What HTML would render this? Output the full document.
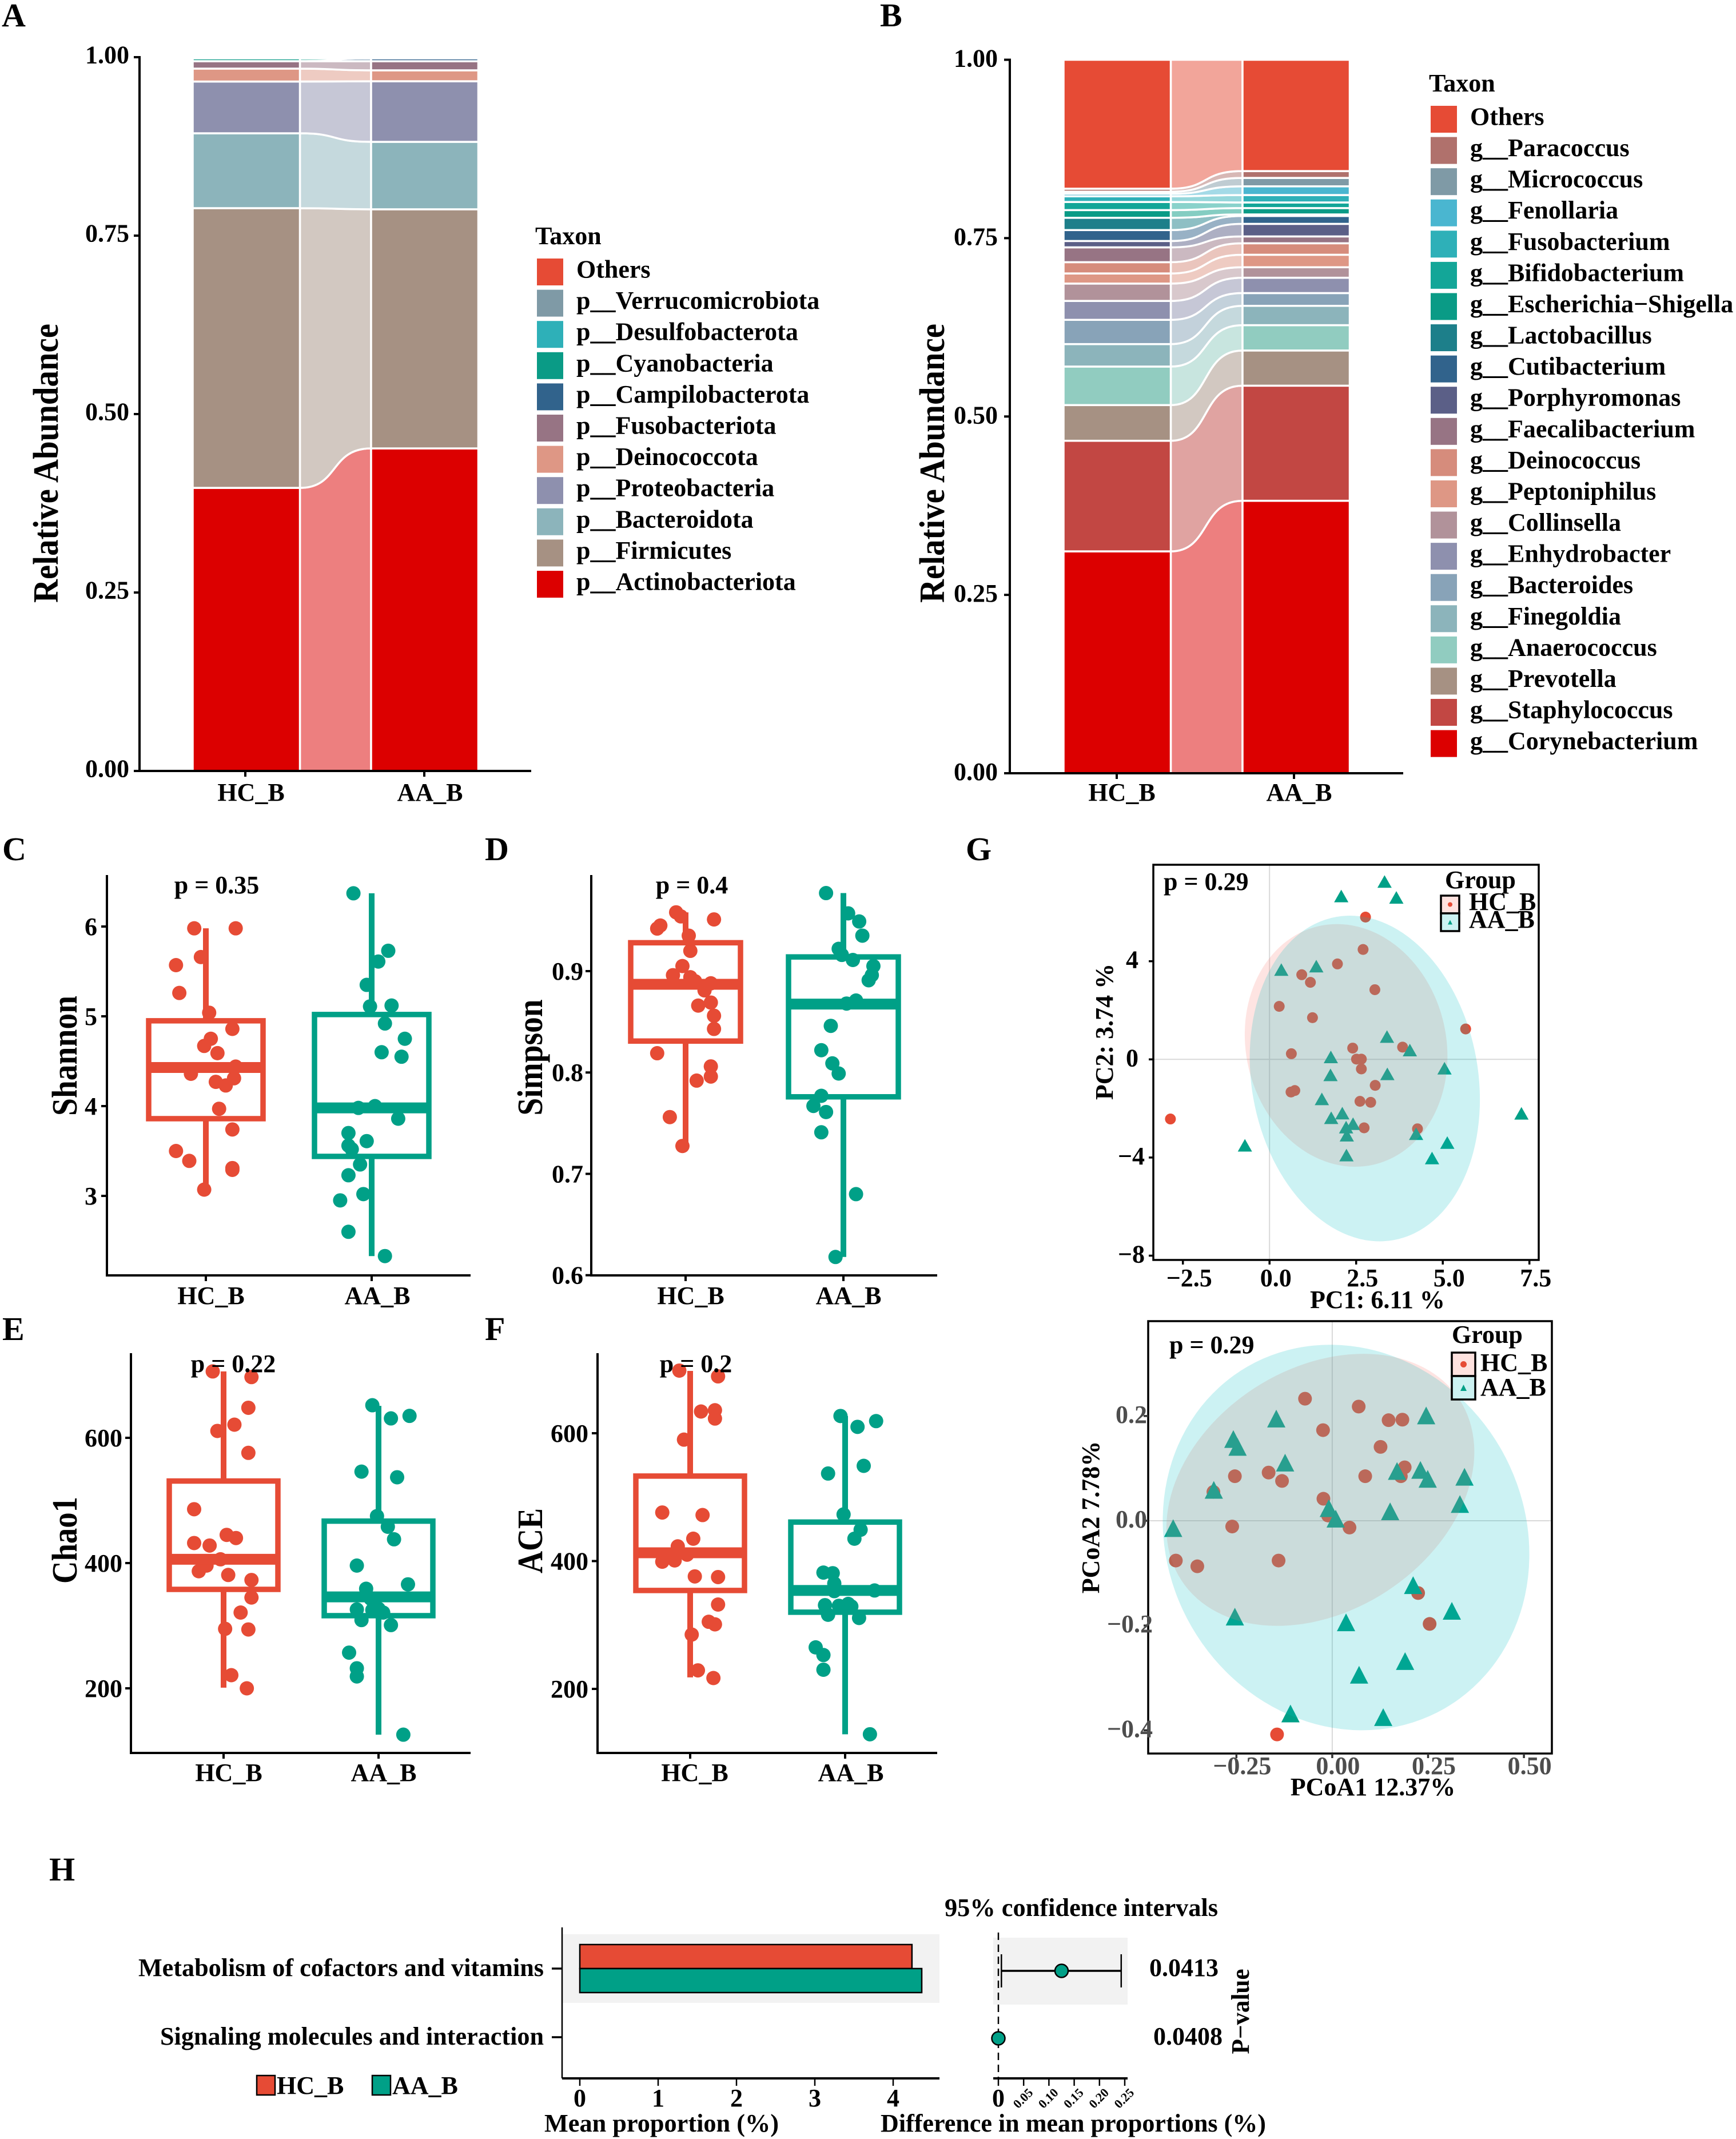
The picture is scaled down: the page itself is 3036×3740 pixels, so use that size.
<!DOCTYPE html>
<html lang="en">
<head>
<meta charset="utf-8">
<title>Microbiome composition and diversity figure</title>
<style>
html,body{margin:0;padding:0;background:#fff;}
svg{display:block;}
text{font-family:"Liberation Serif",serif;font-weight:bold;font-size:44px;fill:#000;}
.letter{font-size:58px;}
.ytitle{font-size:62px;}
</style>
</head>
<body>
<svg id="figure" xmlns="http://www.w3.org/2000/svg" width="3036" height="3740" viewBox="0 0 3036 3740">
<rect x="0" y="0" width="3036" height="3740" fill="#fff"/>

<text class="letter" x="3" y="46">A</text>
<text class="letter" x="1539" y="46">B</text>
<text class="letter" x="4" y="1504">C</text>
<text class="letter" x="848" y="1504">D</text>
<text class="letter" x="4" y="2343">E</text>
<text class="letter" x="848" y="2343">F</text>
<text class="letter" x="1689" y="1504">G</text>
<text class="letter" x="86" y="3288">H</text>

<g id="panelA"></g>
<g id="panelB"></g>
<g id="panelC"></g>
<g id="panelD"></g>
<g id="panelE"></g>
<g id="panelF"></g>
<g id="panelG1"></g>
<g id="panelG2"></g>
<g id="panelH"></g>

<!-- alluvial titles -->
<text class="ytitle" text-anchor="middle" textLength="488" lengthAdjust="spacingAndGlyphs" transform="translate(101 810) rotate(-90)">Relative Abundance</text>
<text x="439" y="1400" text-anchor="middle">HC_B</text>
<text x="752" y="1400" text-anchor="middle">AA_B</text>
<text x="936" y="427">Taxon</text>
<text class="ytitle" text-anchor="middle" textLength="488" lengthAdjust="spacingAndGlyphs" transform="translate(1651 810) rotate(-90)">Relative Abundance</text>
<text x="1962" y="1400" text-anchor="middle">HC_B</text>
<text x="2272" y="1400" text-anchor="middle">AA_B</text>
<text x="2499" y="160">Taxon</text>

<!-- boxplot titles -->
<text class="ytitle" text-anchor="middle" textLength="210" lengthAdjust="spacingAndGlyphs" transform="translate(134 1846) rotate(-90)">Shannon</text>
<text x="379" y="1562" text-anchor="middle">p = 0.35</text>
<text x="369" y="2280" text-anchor="middle">HC_B</text>
<text x="660" y="2280" text-anchor="middle">AA_B</text>
<text class="ytitle" text-anchor="middle" textLength="203" lengthAdjust="spacingAndGlyphs" transform="translate(948 1849) rotate(-90)">Simpson</text>
<text x="1210" y="1562" text-anchor="middle">p = 0.4</text>
<text x="1208" y="2280" text-anchor="middle">HC_B</text>
<text x="1484" y="2280" text-anchor="middle">AA_B</text>
<text class="ytitle" text-anchor="middle" textLength="152" lengthAdjust="spacingAndGlyphs" transform="translate(134 2693) rotate(-90)">Chao1</text>
<text x="400" y="3114" text-anchor="middle">HC_B</text>
<text x="671" y="3114" text-anchor="middle">AA_B</text>
<text class="ytitle" text-anchor="middle" textLength="114" lengthAdjust="spacingAndGlyphs" transform="translate(948 2694) rotate(-90)">ACE</text>
<text x="1215" y="3114" text-anchor="middle">HC_B</text>
<text x="1488" y="3114" text-anchor="middle">AA_B</text>

<!-- ordination titles -->
<text x="2409" y="2287" text-anchor="middle">PC1: 6.11 %</text>
<text text-anchor="middle" transform="translate(1946 1804) rotate(-90)">PC2: 3.74 %</text>
<text x="2401" y="3139" text-anchor="middle">PCoA1 12.37%</text>
<text text-anchor="middle" transform="translate(1922 2653) rotate(-90)">PCoA2 7.78%</text>

<!-- STAMP titles -->
<text x="1891" y="3350" text-anchor="middle" textLength="478" lengthAdjust="spacingAndGlyphs">95% confidence intervals</text>
<text x="1157" y="3727" text-anchor="middle" textLength="410" lengthAdjust="spacingAndGlyphs">Mean proportion (%)</text>
<text x="1877" y="3727" text-anchor="middle" textLength="674" lengthAdjust="spacingAndGlyphs">Difference in mean proportions (%)</text>
<text text-anchor="middle" textLength="149" lengthAdjust="spacingAndGlyphs" transform="translate(2184 3517) rotate(-90)">P−value</text>

<script>
/* ---------- Panel A data ---------- */
const phylumNames = ['p__Actinobacteriota','p__Firmicutes','p__Bacteroidota','p__Proteobacteria','p__Deinococcota','p__Fusobacteriota','p__Campilobacterota','p__Cyanobacteria','p__Desulfobacterota','p__Verrucomicrobiota','Others'];
const phylumColors = ['#DC0000','#A69183','#8CB4BB','#8E90AE','#DE9785','#977484','#31638C','#0A9B86','#2EB0B8','#7F9AA6','#E64B35'];
const phylumHc = [.3966,.3919,.1049,.0725,.0181,.0104,.0001,.0039,.0006,.0005,.0005];
const phylumAa = [.4519,.335,.0945,.0849,.0153,.0128,.0040,.0002,.0004,.0005,.0005];
const stackTicks = ['0.00','0.25','0.50','0.75','1.00'];

/* ---------- Panel B data ---------- */
const genusNames = ['g__Corynebacterium','g__Staphylococcus','g__Prevotella','g__Anaerococcus','g__Finegoldia','g__Bacteroides','g__Enhydrobacter','g__Collinsella','g__Peptoniphilus','g__Deinococcus','g__Faecalibacterium','g__Porphyromonas','g__Cutibacterium','g__Lactobacillus','g__Escherichia−Shigella','g__Bifidobacterium','g__Fusobacterium','g__Fenollaria','g__Micrococcus','g__Paracoccus','Others'];
const genusColors = ['#DC0000','#C24743','#A69183','#91CCC0','#8CB4BB','#88A3B8','#8E90AE','#B1929A','#DE9785','#D68C7C','#977484','#5B5F87','#31638C','#1D7F8A','#0A9B86','#13A698','#2EB0B8','#4AB6D0','#7F9AA6','#B0716C','#E64B35'];
const genusHc = [.311,.155,.050,.054,.0315,.034,.0265,.0243,.0142,.0158,.0208,.0089,.0153,.0172,.0108,.0114,.0079,.0036,.0029,.0042,.1807];
const genusAa = [.3819,.1613,.0493,.0355,.0271,.0179,.0215,.0147,.0175,.0161,.0096,.0176,.0111,.0021,.0089,.0079,.0104,.0122,.0118,.0096,.156];

/* ---------- Panel C: Shannon ---------- */
const shannonTicks = ['3','4','5','6'];
const shannonBoxHc = [3.07,3.86,4.43,4.95,5.98];
const shannonBoxAa = [2.33,3.44,3.98,5.02,6.37];
const shannonHcValues = [5.98,5.98,5.66,5.57,5.26,5.04,4.86,4.75,4.67,4.59,4.44,4.36,4.31,4.27,4.23,3.97,3.74,3.50,3.39,3.31,3.29,3.07];
const shannonHcJitter = [-.07,.18,-.03,-.18,-.16,.02,.16,.03,-.01,.07,.18,-.09,.17,.06,.12,.08,.16,-.18,-.10,.16,.16,-.01];
const shannonAaValues = [6.37,5.73,5.61,5.35,5.11,5.12,4.92,4.75,4.60,4.55,3.98,4.00,3.86,3.70,3.61,3.56,3.52,3.35,3.23,3.02,2.95,2.60,2.33];
const shannonAaJitter = [-.11,.10,.04,-.03,-.01,.12,.08,.20,.06,.18,-.08,.02,.16,-.14,-.03,-.14,-.12,-.07,-.14,-.05,-.19,-.14,.08];

/* ---------- Panel D: Simpson ---------- */
const simpsonTicks = ['0.6','0.7','0.8','0.9'];
const simpsonBoxHc = [.7275,.831,.887,.928,.958];
const simpsonBoxAa = [.618,.776,.8675,.914,.977];
const simpsonHcValues = [.958,.951,.954,.945,.942,.935,.920,.905,.896,.894,.890,.888,.881,.869,.866,.856,.843,.819,.806,.796,.792,.756,.7275];
const simpsonHcJitter = [-.06,.18,-.03,-.16,-.18,.02,.03,-.02,-.08,.03,.06,.16,.12,.16,.08,.18,.18,-.18,.16,.16,.07,-.10,-.02];
const simpsonAaValues = [.977,.957,.949,.935,.922,.916,.911,.905,.896,.891,.868,.871,.846,.822,.809,.799,.777,.767,.761,.741,.680,.618];
const simpsonAaJitter = [-.11,.03,.10,.12,-.03,-.01,.06,.19,.18,.16,.02,.08,-.08,-.14,-.07,-.03,-.14,-.19,-.11,-.14,.08,-.05];

/* ---------- Panel E: Chao1 ---------- */
const chaoTicks = ['200','400','600'];
const chaoBoxHc = [201,358,406,531,706];
const chaoBoxAa = [126,316,346,467,651];
const chaoHcValues = [706,697,648,621,611,576,486,445,440,432,428,406,396,387,381,373,345,321,295,294,221,200];
const chaoHcJitter = [-.07,.18,.16,.07,-.04,.16,-.19,.02,.08,-.19,-.09,-.02,-.11,-.16,.03,.18,.18,.11,.01,.16,.05,.15];
const chaoAaValues = [652,631,635,546,537,475,458,438,396,366,359,343,326,327,325,321,309,301,257,232,219,126];
const chaoAaJitter = [-.04,.08,.20,-.11,.12,-.01,.06,.10,-.14,.19,-.08,-.05,-.14,0,-.04,.03,-.11,.08,-.19,-.14,-.14,.16];

/* ---------- Panel F: ACE ---------- */
const aceTicks = ['200','400','600'];
const aceBoxHc = [218,354,413,533,697.5];
const aceBoxAa = [129,320,354,461,627];
const aceHcValues = [698,689,634,636,623,590,476,472,435,423,410,401,399,376,375,332,305,301,285,229,217];
const aceHcJitter = [-.07,.18,.07,.16,.16,-.04,-.18,.08,.02,-.08,-.02,-.10,-.18,.03,.18,.18,.12,.16,.01,.05,.15];
const aceAaValues = [627,619,610,549,537,473,449,435,382,381,365,353,354,331,333,330,329,316,311,265,253,230,129];
const aceAaJitter = [-.03,.20,.08,.12,-.11,-.01,.10,.06,-.14,-.08,-.07,-.07,.19,-.13,.02,-.04,.04,-.11,.09,-.19,-.14,-.14,.16];

/* ---------- Panel G: PCA ---------- */
const pcaXTicks = [-2.5,0,2.5,5,7.5];
const pcaXLabels = ['−2.5','0.0','2.5','5.0','7.5'];
const pcaYTicks = [-8,-4,0,4];
const pcaYLabels = ['−8','−4','0','4'];
const pcaHcX = [2.77,2.70,1.96,.93,1.18,3.04,.28,1.24,5.66,2.40,3.84,.63,2.51,2.65,2.65,3.05,.73,.62,2.61,2.92,2.73,4.27,-2.86];
const pcaHcY = [5.80,4.48,3.89,3.45,3.14,2.84,2.16,1.70,1.24,.46,.50,.23,.01,.01,-.39,-1.06,-1.27,-1.33,-1.71,-1.75,-2.79,-2.83,-2.43];
const pcaAaX = [3.32,2.07,3.66,.34,1.35,3.39,4.05,1.77,5.05,1.76,3.40,1.51,1.78,2.10,2.41,2.21,2.23,4.23,5.13,4.69,2.22,7.27,-.71];
const pcaAaY = [7.25,6.66,6.60,3.66,3.80,.93,.38,.10,-.36,-.63,-.59,-1.61,-2.38,-2.19,-2.62,-2.76,-3.09,-3.03,-3.39,-4.02,-3.90,-2.20,-3.50];
const pcaEllipseCenterHc = [2.21,.57];
const pcaEllipseCenterAa = [2.75,-.78];

/* ---------- Panel G: PCoA ---------- */
const pcoaXTicks = [-.25,0,.25,.5];
const pcoaXLabels = ['−0.25','0.00','0.25','0.50'];
const pcoaYTicks = [-.4,-.2,0,.2];
const pcoaYLabels = ['−0.4','−0.2','0.0','0.2'];
const pcoaHcX = [-.071,.069,.147,.183,-.024,.126,.189,.179,.086,-.166,-.254,-.131,-.310,-.023,-.011,.045,-.261,-.408,-.352,-.140,.224,.254,-.144];
const pcoaHcY = [.233,.218,.192,.193,.173,.141,.102,.085,.085,.092,.085,.076,.055,.042,.010,-.013,-.011,-.076,-.087,-.076,-.138,-.197,-.408];
const pcoaAaX = [-.146,.245,-.258,-.247,-.123,.230,.169,.249,.345,-.309,.333,.151,-.009,.009,-.415,.211,.312,-.254,.036,.190,.070,-.109,.133];
const pcoaAaY = [.195,.201,.156,.141,.111,.097,.095,.080,.084,.059,.032,.018,.024,.004,-.014,-.123,-.172,-.183,-.194,-.268,-.294,-.368,-.375];
const pcoaEllipseCenterHc = [-.031,.059];
const pcoaEllipseCenterAa = [.036,-.032];

/* ---------- Panel H: STAMP ---------- */
const pathwayNames = ['Metabolism of cofactors and vitamins','Signaling molecules and interaction'];
const pathwayLabelLengths = [709,671];
const meanHc = [4.24,0.0];
const meanAa = [4.365,0.0];
const diffMean = [.125,0];
const diffLow = [.006,0];
const diffHigh = [.243,0];
const pValueLabels = ['0.0413','0.0408'];
const meanTicks = [0,1,2,3,4];
const diffTicks = [0,.05,.10,.15,.20,.25];
const diffTickLabels = ['0','0.05','0.10','0.15','0.20','0.25'];

/* ---------- Helpers ---------- */
const NS = 'http://www.w3.org/2000/svg';
const RED = '#E64B35';
const TEAL = '#00A087';
function mk(tag, attrs, parent) {
  const el = document.createElementNS(NS, tag);
  for (const k in attrs) el.setAttribute(k, attrs[k]);
  parent.appendChild(el);
  return el;
}
function linear(d0, d1, r0, r1) {
  return function (v) { return r0 + (v - d0) * (r1 - r0) / (d1 - d0); };
}
function addText(parent, name, str, x, y, anchor, fill) {
  const t = mk('text', {x: x, y: y, 'text-anchor': anchor || 'start'}, parent);
  
  
  if (fill) t.style.fill = fill;
  t.textContent = str;
  return t;
}
function addLine(parent, name, x1, y1, x2, y2, width, color) {
  const l = mk('line', {x1: x1, y1: y1, x2: x2, y2: y2, stroke: color || '#000', 'stroke-width': width}, parent);
  
  
  return l;
}
function drawLTicksAxis(g, y, labels, axisX, axisTop, axisBottom, axisRight, labelRight, labelDy) {
  addLine(g, 'y-axis-line', axisX, axisTop, axisX, axisBottom + 2, 4);
  addLine(g, 'x-axis-line', axisX - 2, axisBottom, axisRight, axisBottom, 4);
  labels.forEach(function (lab) {
    const py = y(Number(lab));
    addLine(g, 'y-tick', axisX - 10, py, axisX, py, 4);
    addText(g, 'y-tick-label', lab, labelRight, py + labelDy, 'end');
  });
}

/* ---------- Alluvial ---------- */
function drawAlluvial(g, hc, aa, colors, names, geo) {
  const y = linear(0, 1, geo.y0, geo.y1);
  const bandL = geo.hc[1];
  const bandR = geo.aa[0];
  const w = bandR - bandL;
  let cumH = 0;
  let cumA = 0;
  const rows = hc.map(function (v, i) {
    const row = {h0: cumH, a0: cumA};
    cumH += v;
    cumA += aa[i];
    row.h1 = cumH;
    row.a1 = cumA;
    return row;
  });
  rows.forEach(function (r, i) {
    const d = 'M' + bandL + ' ' + y(r.h1) +
      ' C' + (bandL + .55 * w) + ' ' + y(r.h1) + ' ' + (bandL + .42 * w) + ' ' + y(r.a1) + ' ' + bandR + ' ' + y(r.a1) +
      ' L' + bandR + ' ' + y(r.a0) +
      ' C' + (bandL + .42 * w) + ' ' + y(r.a0) + ' ' + (bandL + .55 * w) + ' ' + y(r.h0) + ' ' + bandL + ' ' + y(r.h0) + ' Z';
    const p = mk('path', {d: d, fill: colors[i], 'fill-opacity': .5, stroke: '#fff', 'stroke-width': 3.5}, g);
    
    
  });
  rows.forEach(function (r, i) {
    const a = mk('rect', {x: geo.hc[0], y: y(r.h1), width: geo.hc[1] - geo.hc[0], height: y(r.h0) - y(r.h1), fill: colors[i], stroke: '#fff', 'stroke-width': 3.5}, g);
    
    
    const b = mk('rect', {x: geo.aa[0], y: y(r.a1), width: geo.aa[1] - geo.aa[0], height: y(r.a0) - y(r.a1), fill: colors[i], stroke: '#fff', 'stroke-width': 3.5}, g);
    
    
  });
  drawLTicksAxis(g, y, stackTicks, geo.axisX, geo.y1 - 2, geo.y0, geo.axisRight, geo.labelRight, geo.labelDy);
  geo.ticksX.forEach(function (tx) {
    addLine(g, 'x-tick', tx, geo.y0, tx, geo.y0 + 10, 4);
  });
  const n = names.length;
  for (let i = 0; i < n; i++) {
    const idx = n - 1 - i;
    const sy = geo.legY + i * geo.legPitch;
    const sw = mk('rect', {x: geo.legX, y: sy, width: 46, height: 47, fill: colors[idx]}, g);
    
    
    addText(g, 'legend-label', names[idx], geo.legTextX, sy + 33.5);
  }
}
drawAlluvial(document.getElementById('panelA'), phylumHc, phylumAa, phylumColors, phylumNames, {
  y0: 1348, y1: 100, hc: [337, 524.5], aa: [649, 836.5], axisX: 244, axisRight: 929, labelRight: 226, labelDy: 10.5,
  ticksX: [429, 742], legX: 939, legY: 452, legPitch: 54.6, legTextX: 1008
});
drawAlluvial(document.getElementById('panelB'), genusHc, genusAa, genusColors, genusNames, {
  y0: 1352, y1: 104.5, hc: [1860, 2047.5], aa: [2173, 2360.5], axisX: 1766, axisRight: 2454, labelRight: 1745, labelDy: 12,
  ticksX: [1953, 2263], legX: 2502, legY: 185, legPitch: 54.58, legTextX: 2571
});

/* ---------- Boxplots ---------- */
function drawGroup(g, y, cx, spacing, half, box, vals, jit, color, tag) {
  vals.forEach(function (v, i) {
    const c = mk('circle', {cx: cx + jit[i] * spacing, cy: y(v), r: 12.5, fill: color}, g);
    
    
  });
  addLine(g, 'whisker-upper-' + tag, cx, y(box[4]), cx, y(box[3]), 10, color);
  addLine(g, 'whisker-lower-' + tag, cx, y(box[1]), cx, y(box[0]), 10, color);
  const r = mk('rect', {x: cx - half, y: y(box[3]), width: half * 2, height: y(box[1]) - y(box[3]), fill: 'none', stroke: color, 'stroke-width': 9.5}, g);
  
  
  addLine(g, 'median-' + tag, cx - half, y(box[2]), cx + half, y(box[2]), 19, color);
}
function drawBoxPanel(id, cfg) {
  const g = document.getElementById(id);
  const y = linear(cfg.d0, cfg.d1, cfg.r0, cfg.r1);
  drawGroup(g, y, cfg.cx[0], cfg.spacing, cfg.half, cfg.boxHc, cfg.hcV, cfg.hcJ, RED, 'hc');
  drawGroup(g, y, cfg.cx[1], cfg.spacing, cfg.half, cfg.boxAa, cfg.aaV, cfg.aaJ, TEAL, 'aa');
  drawLTicksAxis(g, y, cfg.ticks, cfg.axisX, cfg.top, cfg.bottom, cfg.right, cfg.labelRight, 15);
  cfg.cx.forEach(function (tx) {
    addLine(g, 'x-tick', tx, cfg.bottom, tx, cfg.bottom + 10, 4);
  });
}
drawBoxPanel('panelC', {d0: 3, d1: 6, r0: 2091, r1: 1620, cx: [360, 650], spacing: 290, half: 100,
  boxHc: shannonBoxHc, boxAa: shannonBoxAa, hcV: shannonHcValues, hcJ: shannonHcJitter, aaV: shannonAaValues, aaJ: shannonAaJitter,
  ticks: shannonTicks, axisX: 187, top: 1530, bottom: 2230, right: 823, labelRight: 170});
drawBoxPanel('panelD', {d0: .6, d1: .9, r0: 2229.7, r1: 1698, cx: [1199, 1475], spacing: 276, half: 96,
  boxHc: simpsonBoxHc, boxAa: simpsonBoxAa, hcV: simpsonHcValues, hcJ: simpsonHcJitter, aaV: simpsonAaValues, aaJ: simpsonAaJitter,
  ticks: simpsonTicks, axisX: 1034, top: 1530, bottom: 2230, right: 1639, labelRight: 1020});
drawBoxPanel('panelE', {d0: 200, d1: 600, r0: 2952, r1: 2514, cx: [391, 662], spacing: 271, half: 95,
  boxHc: chaoBoxHc, boxAa: chaoBoxAa, hcV: chaoHcValues, hcJ: chaoHcJitter, aaV: chaoAaValues, aaJ: chaoAaJitter,
  ticks: chaoTicks, axisX: 229, top: 2366, bottom: 3065, right: 823, labelRight: 214});
drawBoxPanel('panelF', {d0: 200, d1: 600, r0: 2953, r1: 2506, cx: [1207, 1478], spacing: 271, half: 95,
  boxHc: aceBoxHc, boxAa: aceBoxAa, hcV: aceHcValues, hcJ: aceHcJitter, aaV: aceAaValues, aaJ: aceAaJitter,
  ticks: aceTicks, axisX: 1045, top: 2366, bottom: 3065, right: 1639, labelRight: 1029});
addText(document.getElementById('panelE'), 'panel-e-p-value', 'p = 0.22', 408, 2399, 'middle');
addText(document.getElementById('panelF'), 'panel-f-p-value', 'p = 0.2', 1217, 2399, 'middle');

/* ---------- Ordination ---------- */
function drawOrdination(id, c) {
  const g = document.getElementById(id);
  const X = linear(0, 1, c.x0, c.x0 + c.xk);
  const Y = linear(0, 1, c.y0, c.y0 - c.yk);
  addLine(g, 'zero-line-vertical', X(0), c.frame[1], X(0), c.frame[3], 2, '#D9D9D9');
  addLine(g, 'zero-line-horizontal', c.frame[0], Y(0), c.frame[2], Y(0), 2, '#D9D9D9');
  c.hcX.forEach(function (v, i) {
    const d = mk('circle', {cx: X(v), cy: Y(c.hcY[i]), r: c.dotR, fill: RED}, g);
    
    
  });
  c.aaX.forEach(function (v, i) {
    const px = X(v);
    const py = Y(c.aaY[i]);
    const pts = px + ',' + (py - c.triH / 2) + ' ' + (px - c.triW / 2) + ',' + (py + c.triH / 2) + ' ' + (px + c.triW / 2) + ',' + (py + c.triH / 2);
    const t = mk('polygon', {points: pts, fill: TEAL}, g);
    
    
  });
  const e1 = mk('ellipse', {cx: X(c.eHc[0]), cy: Y(c.eHc[1]), rx: c.eHcR[0], ry: c.eHcR[1], fill: '#F8766D', 'fill-opacity': .2,
    transform: 'rotate(' + c.eHcR[2] + ' ' + X(c.eHc[0]) + ' ' + Y(c.eHc[1]) + ')'}, g);
  
  
  const e2 = mk('ellipse', {cx: X(c.eAa[0]), cy: Y(c.eAa[1]), rx: c.eAaR[0], ry: c.eAaR[1], fill: '#00BFC4', 'fill-opacity': .2,
    transform: 'rotate(' + c.eAaR[2] + ' ' + X(c.eAa[0]) + ' ' + Y(c.eAa[1]) + ')'}, g);
  
  
  const fr = mk('rect', {x: c.frame[0], y: c.frame[1], width: c.frame[2] - c.frame[0], height: c.frame[3] - c.frame[1], fill: 'none', stroke: '#000', 'stroke-width': 3.5}, g);
  
  
  c.xt.forEach(function (v, i) {
    addLine(g, 'x-tick', X(v), c.frame[3], X(v), c.frame[3] + 8, 3.5, c.tickColor);
    addText(g, 'x-tick-label', c.xl[i], X(v) + c.xLabDx, c.xLabY, 'middle', c.labelColor);
  });
  c.yt.forEach(function (v, i) {
    addLine(g, 'y-tick', c.frame[0] - 8, Y(v), c.frame[0], Y(v), 3.5, c.tickColor);
    const right = c.yl[i].charAt(0) === '−' ? c.yLabRightNeg : c.yLabRight;
    addText(g, 'y-tick-label', c.yl[i], right, Y(v) + 12, 'end', c.labelColor);
  });
  addText(g, 'p-value', 'p = 0.29', c.pX, c.pY);
  addText(g, 'legend-title', 'Group', c.groupX, c.groupY);
  const b1 = mk('rect', {x: c.leg[0], y: c.leg[1], width: c.leg[2], height: c.leg[3], fill: '#FEE2DF', stroke: '#000', 'stroke-width': 3.5}, g);
  
  
  const b2 = mk('rect', {x: c.leg[0], y: c.leg[1] + c.leg[3], width: c.leg[2], height: c.leg[3], fill: '#CCF2F2', stroke: '#000', 'stroke-width': 3.5}, g);
  
  
  const kx = c.leg[0] + c.leg[2] / 2;
  const ky = c.leg[1] + c.leg[3] / 2;
  const ld = mk('circle', {cx: kx, cy: ky, r: c.legMark / 2, fill: RED}, g);
  
  
  const ty = ky + c.leg[3];
  const lt = mk('polygon', {points: kx + ',' + (ty - c.legMark / 2) + ' ' + (kx - c.legMark / 2) + ',' + (ty + c.legMark / 2) + ' ' + (kx + c.legMark / 2) + ',' + (ty + c.legMark / 2), fill: TEAL}, g);
  
  
  addText(g, 'legend-label-hc', 'HC_B', c.legTextX, c.legTextY[0]);
  addText(g, 'legend-label-aa', 'AA_B', c.legTextX, c.legTextY[1]);
}
drawOrdination('panelG1', {
  x0: 2220.2, xk: 60.6, y0: 1852.3, yk: 42.9, frame: [2017, 1512, 2691, 2203],
  hcX: pcaHcX, hcY: pcaHcY, aaX: pcaAaX, aaY: pcaAaY, dotR: 9.5, triW: 25, triH: 22,
  eHc: pcaEllipseCenterHc, eHcR: [175, 214, -13.2], eAa: pcaEllipseCenterAa, eAaR: [198, 287, -10],
  xt: pcaXTicks, xl: pcaXLabels, yt: pcaYTicks, yl: pcaYLabels, xLabY: 2249, xLabDx: 11, yLabRight: 1991, yLabRightNeg: 2002,
  tickColor: '#000', labelColor: '#000', pX: 2035, pY: 1556, groupX: 2527, groupY: 1553,
  leg: [2520, 1566, 32, 31], legMark: 8, legTextX: 2569, legTextY: [1591, 1622]
});
drawOrdination('panelG2', {
  x0: 2329.9, xk: 670.4, y0: 2659, yk: 915.75, frame: [2008, 2310, 2714, 3066],
  hcX: pcoaHcX, hcY: pcoaHcY, aaX: pcoaAaX, aaY: pcoaAaY, dotR: 12, triW: 32, triH: 31,
  eHc: pcoaEllipseCenterHc, eHcR: [290, 212, -33], eAa: pcoaEllipseCenterAa, eAaR: [312, 345, -30],
  xt: pcoaXTicks, xl: pcoaXLabels, yt: pcoaYTicks, yl: pcoaYLabels, xLabY: 3102, xLabDx: 10, yLabRight: 2006, yLabRightNeg: 2016,
  tickColor: '#333', labelColor: '#4D4D4D', pX: 2045, pY: 2366, groupX: 2539, groupY: 2348,
  leg: [2539, 2365, 41, 41], legMark: 11, legTextX: 2589, legTextY: [2397, 2440]
});

/* ---------- STAMP panel ---------- */
(function () {
  const g = document.getElementById('panelH');
  const X = linear(0, 1, 1014, 1151);
  const D = linear(0, 1, 1746, 2630);
  const rowY = [3442, 3562];
  const bandL = mk('rect', {x: 983, y: 3382, width: 660, height: 120, fill: '#F2F2F2'}, g);
  
  
  const bandR = mk('rect', {x: 1737, y: 3388, width: 235, height: 117, fill: '#F2F2F2'}, g);
  
  
  pathwayNames.forEach(function (name, i) {
    const ry = rowY[i];
    const bh = mk('rect', {x: X(0), y: ry - 42, width: X(meanHc[i]) - X(0), height: 42, fill: RED, stroke: '#000', 'stroke-width': 2.5}, g);
    
    
    const ba = mk('rect', {x: X(0), y: ry, width: X(meanAa[i]) - X(0), height: 42, fill: TEAL, stroke: '#000', 'stroke-width': 2.5}, g);
    
    
    addLine(g, 'pathway-tick', 965, ry, 983, ry, 3.5);
    const lbl = addText(g, 'pathway-label', name, 951, ry + 13, 'end');
    lbl.setAttribute('textLength', pathwayLabelLengths[i]);
    lbl.setAttribute('lengthAdjust', 'spacingAndGlyphs');
    addText(g, 'p-value-label', pValueLabels[i], i === 0 ? 2010 : 2017, ry + 13);
  });
  addLine(g, 'difference-zero-line', D(0), 3379, D(0), 3634, 2.5).setAttribute('stroke-dasharray', '13 8');
  pathwayNames.forEach(function (name, i) {
    const ry = rowY[i] + (i === 0 ? 4 : 2);
    if (diffHigh[i] > diffLow[i]) {
      addLine(g, 'ci-line', D(diffLow[i]), ry, D(diffHigh[i]), ry, 3.5);
      addLine(g, 'ci-cap-low', D(diffLow[i]), ry - 29, D(diffLow[i]), ry + 29, 2.5);
      addLine(g, 'ci-cap-high', D(diffHigh[i]), ry - 29, D(diffHigh[i]), ry + 29, 2.5);
    }
    const m = mk('circle', {cx: D(diffMean[i]), cy: ry, r: 11.5, fill: TEAL, stroke: '#000', 'stroke-width': 2.5}, g);
    
    
  });
  addLine(g, 'mean-y-axis', 983, 3370, 983, 3634, 2.5);
  addLine(g, 'mean-x-axis', 983, 3634, 1643, 3634, 4);
  addLine(g, 'difference-x-axis', 1737, 3634, 1972, 3634, 4);
  meanTicks.forEach(function (v) {
    addLine(g, 'mean-x-tick', X(v), 3634, X(v), 3647, 2.5);
    addText(g, 'mean-x-tick-label', String(v), X(v), 3683, 'middle');
  });
  diffTicks.forEach(function (v, i) {
    addLine(g, 'difference-x-tick', D(v), 3634, D(v), 3647, 2.5);
    if (i === 0) {
      addText(g, 'difference-x-tick-label', diffTickLabels[i], D(v), 3683, 'middle');
    } else {
      const t = addText(g, 'difference-x-tick-label', diffTickLabels[i], 0, 0, 'middle');
      t.style.fontSize = '22px';
      t.setAttribute('transform', 'translate(' + (D(v) + 4) + ' 3674) rotate(-45)');
    }
  });
  const s1 = mk('rect', {x: 449, y: 3629, width: 32, height: 34, fill: RED, stroke: '#000', 'stroke-width': 2.5}, g);
  
  
  addText(g, 'legend-label-hc', 'HC_B', 484, 3661);
  const s2 = mk('rect', {x: 651, y: 3629, width: 32, height: 34, fill: TEAL, stroke: '#000', 'stroke-width': 2.5}, g);
  
  
  addText(g, 'legend-label-aa', 'AA_B', 686, 3661);
})();
</script>
</svg>
</body>
</html>
